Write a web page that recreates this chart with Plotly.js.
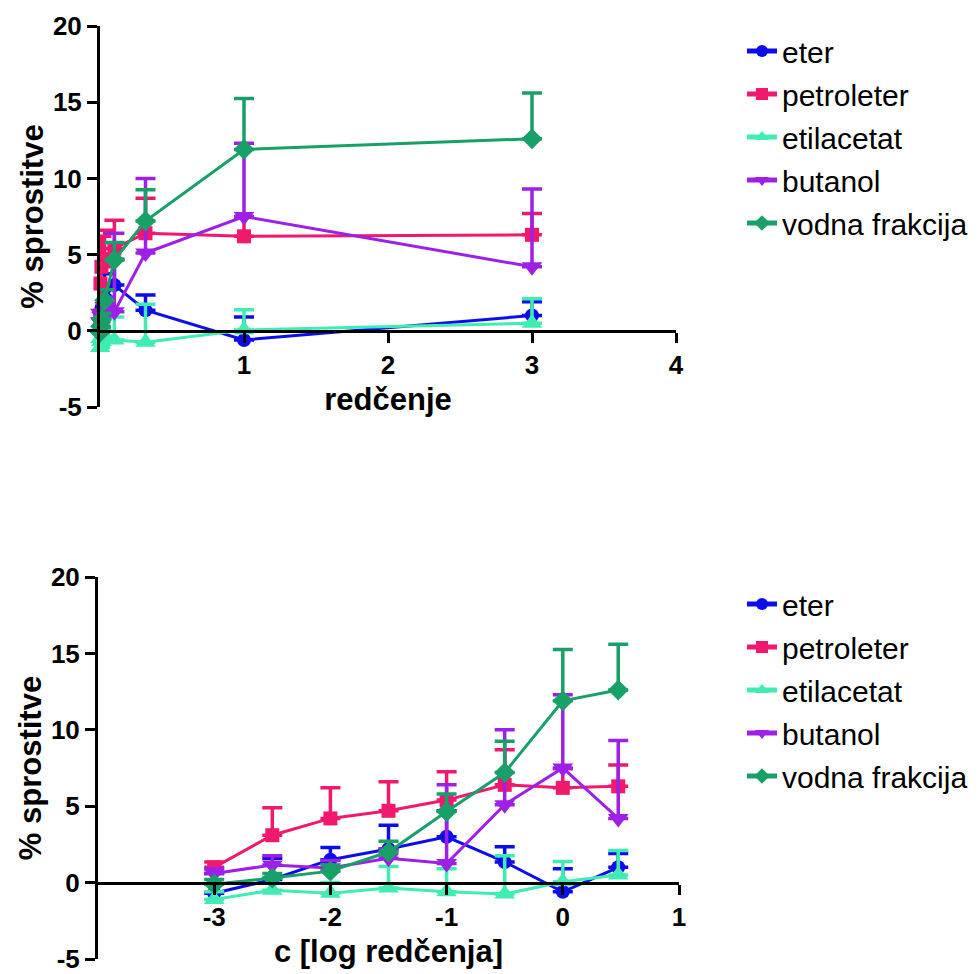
<!DOCTYPE html>
<html>
<head>
<meta charset="utf-8">
<script src="https://cdn.plot.ly/plotly-3.0.1.min.js"></script>
<style>html,body{margin:0;padding:0;background:#fff;}</style>
</head>
<body>
<div id="chart" style="width:979px;height:974px;"></div>
<script>
// ---- data ----
const seriesNames = ['eter', 'petroleter', 'etilacetat', 'butanol', 'vodna frakcija'];
const dilution = [0.001, 0.00316, 0.01, 0.0316, 0.1, 0.316, 1, 3];
const logDilution = [-3, -2.5, -2, -1.5, -1, -0.5, 0, 0.477];

const eter = [-0.7, 0.2, 1.5, 2.2, 3.0, 1.35, -0.6, 1.0];
const eterErr = [1.3, 1.4, 0.8, 1.55, 1.7, 1.0, 1.5, 0.9];

const petroleter = [1.0, 3.1, 4.2, 4.7, 5.4, 6.4, 6.2, 6.3];
const petroleterErr = [0.35, 1.8, 2.0, 1.9, 1.85, 2.3, 1.25, 1.4];

const etilacetat = [-1.1, -0.5, -0.7, -0.35, -0.6, -0.75, 0.05, 0.5];
const etilacetatErr = [0.5, 0.8, 0.7, 1.4, 1.5, 2.5, 1.33, 1.6];

const butanol = [0.6, 1.15, 0.95, 1.6, 1.25, 5.1, 7.5, 4.2];
const butanolErr = [0.3, 0.6, 0.5, 0.6, 5.15, 4.9, 4.8, 5.1];

const vodna = [-0.1, 0.3, 0.75, 2.0, 4.65, 7.2, 11.9, 12.6];
const vodnaErr = [0.3, 0.3, 0.4, 0.7, 1.15, 2.05, 3.35, 3.0];

const yTicks = [-5, 0, 5, 10, 15, 20];
const xTicksTop = [1, 2, 3, 4];
const xTicksBottom = [-3, -2, -1, 0, 1];

// ---- styles ----
const values = [eter, petroleter, etilacetat, butanol, vodna];
const errors = [eterErr, petroleterErr, etilacetatErr, butanolErr, vodnaErr];
const colors = ['#0D0DEB', '#F0196E', '#3FEDB2', '#9E1FE6', '#18A068'];
const symbols = ['circle', 'square', 'triangle-up', 'triangle-down', 'diamond'];
const msize = [14, 14, 18, 18, 16];

const traces = [];
function addSet(xs, xa, ya, leg, tag) {
  for (let i = 0; i < seriesNames.length; i++) {
    traces.push({
      type: 'scatter', mode: 'lines+markers',
      x: xs, y: values[i], xaxis: xa, yaxis: ya,
      name: seriesNames[i], legend: leg, legendgroup: tag + i,
      line: {color: colors[i], width: 3},
      marker: {color: colors[i], symbol: symbols[i], size: msize[i], line: {width: 0}},
      error_y: {type: 'data', symmetric: false, array: errors[i],
                arrayminus: errors[i].map(() => 0),
                color: colors[i], thickness: 3.5, width: 10},
      cliponaxis: false
    });
  }
}
addSet(dilution, 'x', 'y', 'legend', 'a');
addSet(logDilution, 'x2', 'y2', 'legend2', 'b');

const W = 979, H = 974;
const topY = [(H - 407) / H, (H - 26) / H];
const botY = [(H - 959) / H, (H - 577) / H];
const zeroPos = d => d[0] + (0 - (-5)) / 25 * (d[1] - d[0]);

const tickFont = {size: 26, color: '#000', weight: 'bold'};
const titleFont = {size: 31, color: '#000', weight: 'bold'};

function xAxis(dom, range, ticks, pos, title) {
  return {
    domain: dom, range: range, anchor: 'free', position: pos,
    showline: true, linewidth: 3, linecolor: '#000',
    ticks: 'outside', ticklen: 10, tickwidth: 3, tickcolor: '#000',
    tickvals: ticks, ticktext: ticks.map(String), ticklabeloverflow: 'allow',
    showgrid: false, zeroline: false, tickfont: tickFont,
    title: {text: title, font: titleFont, standoff: 9}
  };
}
function yAxis(dom, anchor) {
  return {
    domain: dom, range: [-5, 20], anchor: anchor,
    showline: true, linewidth: 3, linecolor: '#000',
    ticks: 'outside', ticklen: 10, tickwidth: 3, tickcolor: '#000',
    tickvals: yTicks, ticktext: yTicks.map(String), ticklabeloverflow: 'allow',
    showgrid: false, zeroline: false, tickfont: tickFont,
    title: {text: '% sprostitve', font: titleFont, standoff: 1}
  };
}

const legendBase = {
  xanchor: 'left', yanchor: 'top', bgcolor: 'rgba(0,0,0,0)',
  font: {size: 30, color: '#000'}, traceorder: 'grouped',
  tracegroupgap: 1, itemsizing: 'constant'
};

const layout = {
  width: W, height: H,
  margin: {l: 0, r: 0, t: 0, b: 0},
  paper_bgcolor: '#fff', plot_bgcolor: '#fff',
  font: {family: '"Liberation Sans", Arial, sans-serif', color: '#000'},
  showlegend: true,
  xaxis: xAxis([100 / W, 676 / W], [0, 4], xTicksTop, zeroPos(topY), 'redčenje'),
  yaxis: yAxis(topY, 'x'),
  xaxis2: xAxis([98 / W, 679 / W], [-4, 1], xTicksBottom, zeroPos(botY), 'c [log redčenja]'),
  yaxis2: yAxis(botY, 'x2'),
  legend: Object.assign({}, legendBase, {x: 742 / W, y: (H - 25) / H}),
  legend2: Object.assign({}, legendBase, {x: 742 / W, y: (H - 578) / H})
};

Plotly.newPlot('chart', traces, layout, {displayModeBar: false, staticPlot: true});
</script>
</body>
</html>
